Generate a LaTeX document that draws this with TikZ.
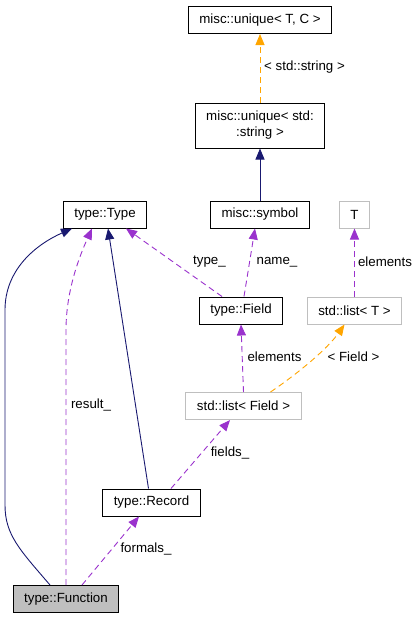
\documentclass[tikz,border=0pt]{standalone}
\usepackage{fontspec}
\setmainfont{Liberation Sans}
\usetikzlibrary{arrows.meta,calc}

\definecolor{edgenavy}{RGB}{25,25,112}
\definecolor{edgeorchid}{RGB}{154,50,205}
\definecolor{edgeorange}{RGB}{255,165,0}
\definecolor{boxgray}{RGB}{191,191,191}

\tikzset{
	cls/.style={draw=black, line width=1pt, minimum height=27pt, inner xsep=11pt, inner ysep=2pt},
	ext/.style={cls, draw=boxgray},
	lbl/.style={inner sep=0pt, anchor=center},
	inherit/.style={edgenavy, line width=0.9pt, -{Triangle[length=11pt,width=9pt]}},
	uses/.style={edgeorchid, line width=0.9pt, dash pattern=on 6pt off 4pt, -{Triangle[length=11pt,width=9pt]}},
	templ/.style={edgeorange, line width=0.9pt, dash pattern=on 6pt off 4pt, -{Triangle[length=11pt,width=9pt]}}
}

\begin{document}
\begin{tikzpicture}[x=1pt, y=-1pt, font=\fontsize{13.3}{16}\selectfont]
			\useasboundingbox (0, 0) rectangle (417, 619);
			\node[cls] (uniq) at (260, 20) {misc::unique< T, C >};
			\node[cls, align=center, minimum height=45pt] (ustr) at (260, 125.5) {misc::unique< std:\\:string >};
			\node[cls] (type) at (105, 214.5) {type::Type};
			\node[cls] (sym) at (260, 214.5) {misc::symbol};
			\node[ext] (tpar) at (354.5, 214.5) {T};
			\node[cls] (field) at (241, 310.5) {type::Field};
			\node[ext] (listt) at (354.5, 310.5) {std::list< T >};
			\node[ext] (listf) at (243.5, 406) {std::list< Field >};
			\node[cls] (rec) at (151.5, 502.5) {type::Record};
			\node[cls, fill=boxgray] (func) at (66, 599) {type::Function};
			% edges
			\path[templ] (ustr.north) edge (uniq.south);
			\path[inherit] (sym.north) edge (ustr.south);
			\draw[inherit] ([xshift=-16pt]func.north) .. controls (20, 550) and (5, 535) .. (5, 505)
				-- (5, 310) .. controls (5, 270) and (35, 245) .. ([xshift=-33pt]type.south);
			\draw[uses] (func.north) -- (66, 330) .. controls (66, 290) and (80, 255) .. ([xshift=-13pt]type.south);
			\path[inherit] ([xshift=-3pt]rec.north) edge ([xshift=3pt]type.south);
			\path[uses] ([xshift=-19pt]field.north) edge ([xshift=21pt]type.south);
			\path[uses] ([xshift=3pt]field.north) edge ([xshift=-5pt]sym.south);
			\path[uses] (listt.north) edge (tpar.south);
			\path[uses] (listf.north) edge (field.south);
			\draw[templ] ([xshift=27pt]listf.north) .. controls (300, 372) and (328, 348) .. ([xshift=-10pt]listt.south);
			\path[uses] ([xshift=19.5pt]rec.north) edge ([xshift=-13.5pt]listf.south);
			\path[uses] ([xshift=16pt]func.north) edge ([xshift=-12.5pt]rec.south);
			% labels
			\node[lbl] (l1) at (304.5, 67) {< std::string >};
			\node[lbl] (l2) at (209.5, 262) {type\_};
			\node[lbl] (l3) at (277, 262) {name\_};
			\node[lbl] (l4) at (385, 262) {elements};
			\node[lbl] (l5) at (274.5, 357) {elements};
			\node[lbl] (l6) at (353.5, 357) {< Field >};
			\node[lbl] (l7) at (91, 405) {result\_};
			\node[lbl] (l8) at (230, 453) {fields\_};
			\node[lbl] (l9) at (146, 549) {formals\_};
		\end{tikzpicture}
\end{document}
